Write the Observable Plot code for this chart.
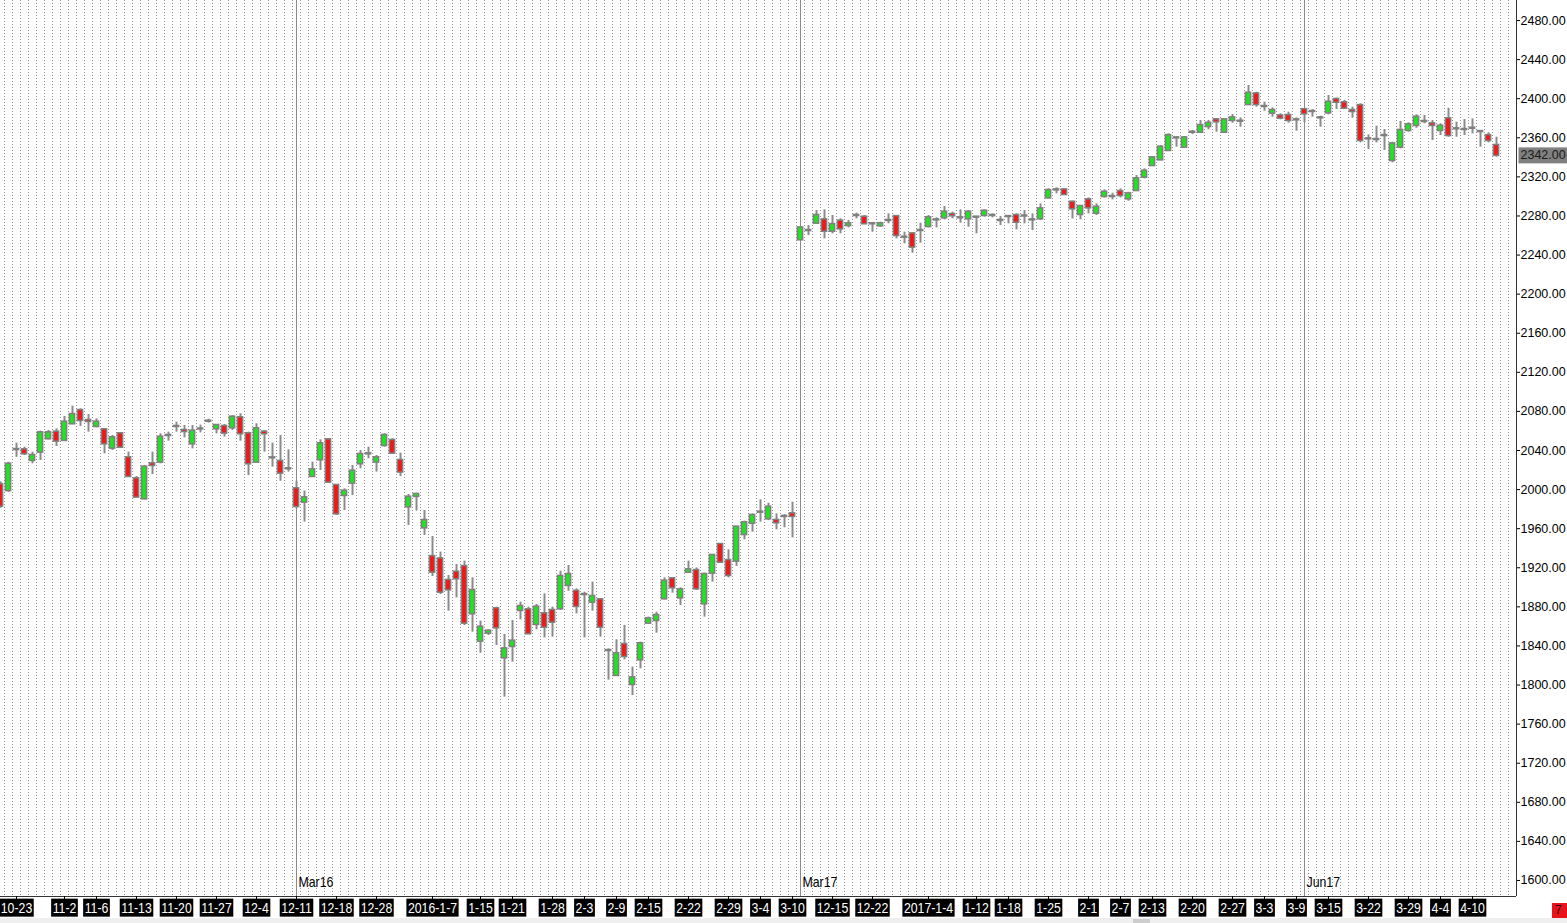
<!DOCTYPE html>
<html>
<head>
<meta charset="utf-8">
<script src="https://cdn.jsdelivr.net/npm/d3@7"></script>
<script src="https://cdn.jsdelivr.net/npm/@observablehq/plot@0.6"></script>
<style>
html,body{margin:0;padding:0;background:#fff;overflow:hidden;}
#wrap{position:relative;width:1567px;height:923px;overflow:hidden;}
#strip{position:absolute;left:0;top:918px;width:1567px;height:5px;background:#efefef;}
#thumb{position:absolute;left:1133px;top:919px;width:17px;height:4px;background:#cdcdcd;}
#redtag{position:absolute;left:1552px;top:903px;width:15px;height:15px;background:#e8141c;color:#300;font:12px 'Liberation Sans',sans-serif;line-height:15px;padding-left:3px;box-sizing:border-box;overflow:hidden;}
</style>
</head>
<body>
<div id="wrap"></div>
<script>
// ---- data ----
const open = [
2005,1999,2041,2040.7,2029.8,2038.3,2052,2058.8,2050.3,2067.3,
2080.9,2070.7,2064.6,2061.2,2042.4,2057.1,2032.5,2011,1990.5,2026.4,
2028.1,2055.4,2064.6,2060.5,2046.8,2062,2070,2062.2,2064.6,2063.2,
2073.5,2057.1,2028.1,2058.8,2032.5,2028.8,2021.3,2000.8,1987.2,2013.4,
2030.5,2050.9,2004.2,1994,2006.6,2026.4,2036.6,2028.1,2045.1,2050.3,
2029.8,1982.3,1993,1960.9,1931.5,1929.1,1907,1915.5,1921.3,1872.9,
1844.9,1853.1,1878,1827.8,1839.4,1876.3,1877,1862,1872.9,1876.3,
1878,1901.9,1896,1892.6,1884.8,1887.2,1835.3,1809.8,1841.5,1800.5,
1825.8,1863.3,1866,1888.2,1908.7,1889.2,1915.5,1917.2,1883.1,1914.5,
1943.8,1927.4,1926.8,1954,1965.6,1976.9,1970.1,1968.4,1972.5,1975.2,
2255.6,2265.1,2272.6,2276,2264.4,2274.7,2270.2,2280.5,2278.8,2272,
2269.9,2275.4,2279.4,2258.3,2261.7,2265.1,2269.2,2276,2278.1,2281.5,
2278.1,2277.1,2278.8,2280.5,2280.5,2275.4,2279.4,2280.5,2280,2276,
2277.1,2298.5,2306.7,2306.7,2294.1,2281.5,2296.5,2282.8,2299.9,2299.9,
2305,2297.5,2306,2319.7,2331.6,2337.4,2347,2359.9,2350.4,2365.7,
2365.7,2371.5,2378.4,2365.7,2377.7,2377,2394,2404.9,2392,2385.2,
2382.4,2382.8,2378.4,2388.8,2386.9,2380.4,2385.5,2399.2,2395.8,2387.9,
2393,2358.9,2358.2,2362.3,2336.8,2350.4,2367.5,2372.6,2376.7,2374.3,
2367.5,2379.4,2369.2,2368.5,2369.8,2366.4,2362.3,2352.1
];
const high = [
2008,2028,2047.5,2043.4,2038.3,2059.8,2060.5,2062.2,2074.8,2085.4,
2082.6,2076.8,2072.4,2062.2,2055.4,2057.5,2038.3,2013.4,2024.7,2038.3,
2057.1,2058.8,2069,2065.6,2065.6,2066,2072,2066.6,2066.6,2075.8,
2077.6,2058.8,2067.3,2060.5,2047.5,2055.4,2040.7,2008.6,1998.4,2028.1,
2050.9,2052,2005.2,2000.8,2024.7,2040,2043.4,2034.9,2057.1,2052,
2037.3,1995,1996.3,1978.6,1952,1936,1912.1,1923.3,1926.8,1909.7,
1865.4,1856.5,1879.7,1851.7,1866,1884.8,1879.7,1882.4,1893.3,1879.7,
1916.5,1922.3,1898.4,1895,1905.3,1888.2,1837,1846.3,1861,1818.3,
1843.9,1869.5,1874.6,1909.7,1909.7,1899.5,1926.8,1919.9,1914.5,1933.6,
1944.5,1938.4,1962.2,1967.7,1975.2,1989.5,1986.1,1975.2,1974.5,1987.1,
2268.5,2270.2,2285.6,2286.3,2280.5,2277.1,2275.4,2282.9,2280.5,2272.6,
2273.6,2282.2,2280.5,2263.4,2262.4,2272.6,2280.5,2278.1,2289.7,2283.9,
2286.3,2285.6,2279.5,2286.3,2282.2,2279.4,2280.5,2282.2,2285.6,2282.2,
2292.4,2307.8,2308.8,2307.7,2295.1,2290.7,2298.5,2292.4,2306.7,2303.3,
2307.7,2304.3,2321.4,2328.2,2340.8,2352.1,2364,2361.3,2361.3,2367.4,
2377.7,2377.7,2379.4,2379.4,2383.8,2380.4,2413.5,2406.7,2396.4,2390.6,
2384.5,2386.2,2380.4,2390,2388.9,2382.1,2403.3,2400.5,2398.2,2391.3,
2394.7,2363,2371.9,2368.5,2355.5,2376.7,2375.3,2383.5,2382.8,2377.7,
2374.3,2390.3,2376,2378.7,2379.4,2366.4,2365.1,2360.6
];
const low = [
1981,1997,2033,2034.9,2026.4,2029.8,2050.9,2044.1,2049.6,2066.6,
2064.6,2058.8,2063.2,2036.6,2040,2042.4,2013,1991.6,1989.5,2015.4,
2026.4,2049.6,2058.8,2053,2041.7,2058,2068,2057.1,2053.7,2060.5,
2049.6,2014.4,2027.1,2038.3,2023,2008.6,2017.9,1980.3,1966.7,2012.7,
2019.6,2006.6,1973.5,1978.6,1994,2021.3,2031.5,2017.9,2043.4,2036.6,
2013.4,1963.3,1978,1953,1911.1,1892.6,1875.6,1889.2,1860.9,1854.1,
1832.6,1850.7,1840.5,1787.6,1823.4,1866.7,1851.7,1856.5,1848.3,1849,
1876.3,1896,1872.9,1848.3,1875.6,1849,1805,1808.7,1825.8,1789.3,
1816.6,1862.6,1853.1,1887.2,1894,1881.4,1914.5,1896.7,1869.5,1905.3,
1924.7,1909.7,1921.3,1948.6,1956.4,1966.7,1968.4,1958.8,1960.9,1950.6,
2254.9,2260,2271.9,2256.6,2261.7,2261.7,2267.8,2277.1,2271.2,2263.4,
2268.5,2272,2256.6,2251.5,2241.9,2252.2,2267.8,2267.8,2276,2277.1,
2272.6,2268.5,2261.7,2278.8,2278.1,2270.2,2272,2265.8,2272,2265.1,
2275.4,2297.5,2302.6,2300.9,2277,2276,2282.2,2280.5,2298.5,2296.5,
2298.5,2295.1,2305.4,2318,2330.6,2336.7,2346.3,2350.4,2349.7,2363.3,
2364.7,2368.1,2365.7,2364.7,2374.9,2370.8,2393,2391.3,2387.2,2381.1,
2378.4,2374.9,2366.8,2375.5,2381.1,2370.9,2383.5,2389,2389,2380.1,
2354.8,2348,2354.8,2347,2334.4,2348.7,2365.7,2369.8,2374.3,2357.2,
2362.3,2360.6,2360.6,2362.3,2364,2350.4,2354.8,2340.2
];
const close = [
1983,2026,2041,2036.6,2034.9,2058.1,2058.1,2049.6,2069,2076.8,
2070.7,2069.7,2069,2046.8,2053,2043.4,2013.4,1992.3,2023,2024.7,
2053.6,2055.4,2064.6,2059.4,2059.8,2062,2070,2065.6,2057.8,2074.1,
2057.1,2026.4,2062.2,2057.1,2032.5,2016.8,2021.3,1982.7,1991.6,2020.2,
2046.9,2007.6,1975.2,1998.4,2018.9,2035.9,2036.6,2032.5,2055.4,2037.3,
2017.9,1992.2,1995,1968.4,1915.5,1895,1897.4,1908.7,1863.3,1896.7,
1859.2,1855.1,1858.5,1837,1844.9,1880.4,1852.4,1879.7,1859.2,1864.3,
1911.1,1913.1,1880.4,1892.6,1890.6,1859.2,1835.3,1832,1829.2,1807.4,
1842.2,1867.7,1871.2,1906.3,1899.5,1897.4,1917.9,1898.4,1913.1,1932.6,
1925.7,1912.1,1961.6,1966,1973.5,1976.9,1982,1966,1972.5,1972.5,
2267.8,2265.1,2280.5,2264.4,2271.2,2266.8,2272,2280.5,2272,2272,
2272,2275.4,2260,2258.3,2248.1,2265.1,2278.1,2276,2283.9,2280.2,
2278.1,2283.9,2278.8,2284.9,2280.5,2275.4,2279.4,2273.6,2280,2276,
2287.3,2306,2306.7,2301.9,2287.3,2289.7,2288.3,2289,2304.3,2299.9,
2300.9,2302.6,2318,2325.8,2339.5,2350.4,2362.3,2359.9,2359.9,2365.7,
2372.5,2374.9,2376.3,2378.4,2380.4,2377,2405.6,2394,2392,2387.9,
2380.1,2377.7,2378.4,2384.5,2386.9,2380.4,2396.4,2396.4,2390.3,2386.9,
2357.2,2358.9,2358.2,2362.3,2353.8,2367.5,2373.3,2381.1,2376.7,2372.6,
2371.9,2362.3,2369.2,2368.5,2369.8,2366.4,2357.2,2342
];
const tickIndex = [2,8,12,17,22,27,32,37,42,47,54,60,64,69,73,77,81,86,91,95,99,
  104,109,116,122,126,131,136,140,144,149,154,158,162,166,171,176,180,184];
const tickLabels = ["10-23","11-2","11-6","11-13","11-20","11-27","12-4","12-11","12-18","12-28",
  "2016-1-7","1-15","1-21","1-28","2-3","2-9","2-15","2-22","2-29","3-4","3-10",
  "12-15","12-22","2017-1-4","1-12","1-18","1-25","2-1","2-7","2-13","2-20","2-27",
  "3-3","3-9","3-15","3-22","3-29","4-4","4-10"];
const rollIndex = [37,100,163];
const rollLabels = ["Mar16","Mar17","Jun17"];
const yTicks = d3.range(1600, 2481, 40);
const lastPrice = 2342.00;

// ---- build ----
const FONT = "'Liberation Sans',Arial,sans-serif";
const RED = "#f01818", GREEN = "#22e022", GRAY = "#8a8a8a";
const bars = open.map((o, i) => ({i, open: o, high: high[i], low: low[i], close: close[i]}));
const xMax = 189.5;
const yMin = 1583.6, yMax = 2500.5;
const grid = d3.range(-0.5, bars.length + 1, 1);

const chart = Plot.plot({
  width: 1567, height: 918,
  marginLeft: 0, marginRight: 51, marginTop: 0, marginBottom: 22,
  x: {domain: [0, xMax], axis: null},
  y: {domain: [yMin, yMax], axis: null},
  style: {fontFamily: FONT, fontSize: "15px", background: "#ffffff", color: "#000", overflow: "hidden"},
  marks: [
    Plot.ruleX(grid, {x: d => d, stroke: "#8c8c8c", strokeDasharray: "1,2", strokeWidth: 1}),
    Plot.ruleX(rollIndex, {x: d => d, stroke: "#8a8a8a", strokeWidth: 1}),
    Plot.ruleX(bars, {x: "i", y1: "low", y2: "high", stroke: GRAY, strokeWidth: 2}),
    Plot.rect(bars, {
      x1: d => d.i - 0.33, x2: d => d.i + 0.33, y1: "open", y2: "close",
      insetTop: -0.5, insetBottom: -0.5,
      fill: d => d.close > d.open ? GREEN : d.close < d.open ? RED : GRAY,
      stroke: "#808080", strokeWidth: 1.5
    }),
    Plot.ruleX([xMax], {stroke: "#333"}),
    Plot.ruleY([yMin], {stroke: "#333"}),
    Plot.axisY({anchor: "right", ticks: yTicks, tickFormat: d => d.toFixed(2), tickSize: 3, tickPadding: 1, fontSize: 12.5, stroke: "#000", fill: "#000", label: null, className: "ylab"}),
    Plot.axisX({ticks: tickIndex, tickFormat: d => tickLabels[tickIndex.indexOf(d)], tickSize: 3, tickPadding: 3, fontSize: 15, stroke: "#000", fill: "#fff", label: null, className: "xlab"}),
    Plot.text(rollIndex, {x: d => d, frameAnchor: "bottom", dy: -10, dx: 2, textAnchor: "start", text: (d, i) => rollLabels[i], fill: "#000", fontSize: 15, className: "roll"}),
    Plot.text([lastPrice], {x: xMax, y: d => d, dx: 4, textAnchor: "start", text: d => d.toFixed(2), fill: "#1a1a1a", fontSize: 12.5, className: "price"})
  ]
});

const wrap = document.getElementById("wrap");
wrap.appendChild(chart);
["strip", "thumb"].forEach(id => { const d = document.createElement("div"); d.id = id; wrap.appendChild(d); });
const tag = document.createElement("div"); tag.id = "redtag"; tag.textContent = "7"; wrap.appendChild(tag);

// narrow the date and contract labels (the reference uses a condensed UI font)
chart.querySelectorAll(".xlab text, .roll text").forEach(t => {
  const w = t.getComputedTextLength();
  if (w > 0) {
    t.setAttribute("textLength", (w * 0.82).toFixed(2));
    t.setAttribute("lengthAdjust", "spacingAndGlyphs");
  }
});

// boxes behind x tick labels and the last price label
function boxes(sel, fill, padX, padY, extendRight) {
  chart.querySelectorAll(sel).forEach(t => {
    const b = t.getBBox();
    const r = document.createElementNS("http://www.w3.org/2000/svg", "rect");
    r.setAttribute("x", b.x - padX);
    r.setAttribute("width", b.width + 2 * padX + (extendRight || 0));
    r.setAttribute("y", b.y - padY);
    r.setAttribute("height", b.height + 2 * padY);
    r.setAttribute("fill", fill);
    const tr = t.getAttribute("transform");
    if (tr) r.setAttribute("transform", tr);
    t.parentNode.insertBefore(r, t);
  });
}
boxes(".xlab text", "#000", 1.5, 0.5, 0);
boxes(".price text", "#808080", 2, 1, 6);
</script>
</body>
</html>
